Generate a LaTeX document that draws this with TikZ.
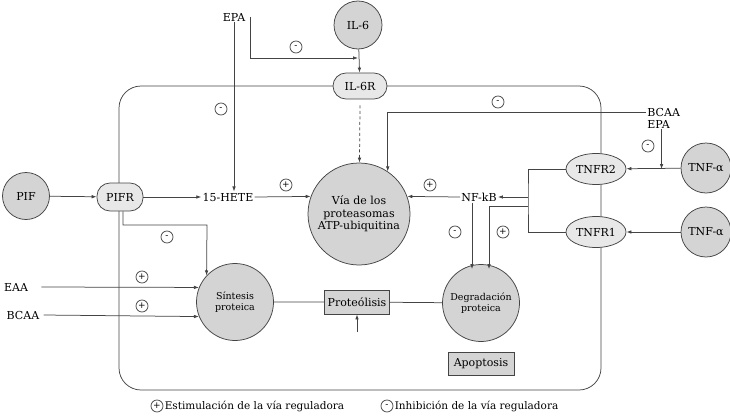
\documentclass[tikz,border=0pt]{standalone}
\usepackage{fontspec}
\setmainfont{DejaVu Serif}
\usetikzlibrary{arrows.meta,shapes.geometric}
\definecolor{ln}{HTML}{444444}
\definecolor{cfill}{HTML}{D4D4D4}
\definecolor{rfill}{HTML}{E8E8E8}
\begin{document}
\begin{tikzpicture}[x=1pt, y=-1pt,
  >={Latex[length=5pt,width=3.6pt]},
  draw=ln, line width=0.75pt,
  lbl/.style = {font=\fontsize{11}{12.5}\selectfont, inner sep=1pt},
  circ/.style = {shape=circle, draw=ln, fill=cfill, align=center,
    inner sep=0pt, font=\fontsize{11}{12.5}\selectfont},
  recep/.style = {shape=rectangle, rounded corners=13pt, draw=ln, fill=rfill,
    inner sep=0pt, font=\fontsize{11}{12.5}\selectfont},
  tnfr/.style = {shape=ellipse, draw=ln, fill=rfill, inner sep=0pt,
    minimum width=60pt, minimum height=31pt, font=\fontsize{11}{12.5}\selectfont},
  gbox/.style = {shape=rectangle, draw=ln, fill=cfill, inner sep=0pt,
    font=\fontsize{11}{12.5}\selectfont},
  sg/.style = {shape=circle, draw=ln, inner sep=0pt, minimum size=12pt,
    font=\fontsize{9}{9}\selectfont}]
  \path[use as bounding box] (0,0) rectangle (730,415);
  % cell
  \draw[rounded corners=22pt] (119,86) rectangle (601,390);
  % nodes
  \node[lbl] (epa) at (234,17) {EPA};
  \node[circ, minimum size=48pt] (il6) at (358,25) {IL-6};
  \node[recep, minimum width=54pt, minimum height=26pt] (il6r) at (360,86) {IL-6R};
  \node[circ, minimum size=47pt] (pif) at (26,196) {PIF};
  \node[recep, minimum width=46pt, minimum height=28pt] (pifr) at (120,197) {PIFR};
  \node[lbl] (hete) at (228,197) {15-HETE};
  \node[circ, minimum size=102pt] (via) at (359,214)
    {V\'ia de los\\proteasomas\\ATP-ubiquitina};
  \node[lbl] (nfkb) at (479,197) {NF-kB};
  \node[tnfr] (tnfr2) at (596,169) {TNFR2};
  \node[tnfr] (tnfr1) at (596,232) {TNFR1};
  \node[circ, minimum size=50pt] (tnfa2) at (706,168) {TNF-α};
  \node[circ, minimum size=50pt] (tnfa1) at (706,232) {TNF-α};
  \node[lbl, anchor=west] (bcaar) at (646,112) {BCAA};
  \node[lbl, anchor=west] (epar) at (646,124) {EPA};
  \node[circ, minimum size=77pt, font=\fontsize{9.5}{11}\selectfont] (sin) at (235,302)
    {S\'intesis\\proteica};
  \node[gbox, minimum width=65pt, minimum height=24pt] (prot) at (357,302) {Prote\'olisis};
  \node[circ, minimum size=77pt, font=\fontsize{9.5}{11}\selectfont] (deg) at (481,303)
    {Degradaci\'on\\proteica};
  \node[gbox, minimum width=66pt, minimum height=23pt] (apop) at (481,364) {Apoptosis};
  \node[lbl] (eaa) at (16,287) {EAA};
  \node[lbl] (bcaal) at (23,315) {BCAA};
  % helper points
  \coordinate (j6) at (358,58);
  \coordinate (br) at (528,197);
  \coordinate (br2) at (528,206);
  \coordinate (k1) at (207,225);
  \coordinate (pin) at (357,332);
  % connectors
  \draw[->] (pif) -- (pifr);
  \draw[->] (pifr) -- (hete);
  \draw[->] (hete.east) -- (via.160);
  \draw[->] (nfkb.west) -- (via.20);
  \draw[->] (epa.south) -- (epa.south |- hete.north);
  \draw[->] ([xshift=4pt]epa.east) |- (j6);
  \draw[->] (il6) -- (il6r);
  \draw[->, dashed, dash pattern=on 3pt off 2.5pt] ([yshift=-6pt]il6r.south) -- (via);
  \draw[->] (bcaar.west) -| (via.56);
  \draw[->] ([xshift=3pt]epar.south) -- ([xshift=3pt]epar.south |- tnfr2);
  \draw[->] (tnfa2) -- (tnfr2);
  \draw[->] (tnfa1) -- (tnfr1);
  \draw (tnfr2.west) -| (br) |- (tnfr1.west);
  \draw[->] (br) -- (nfkb.east);
  \draw[->] (br2) -| ([xshift=8pt,yshift=-5pt]deg.north);
  \draw[->] ([xshift=-7pt]nfkb.south) -- ([xshift=-9pt,yshift=-5pt]deg.north);
  \draw[->] ([xshift=3pt]pifr.south) |- (k1) -- (sin.137);
  \draw[->] ([xshift=12pt]eaa.east) -- (sin.158);
  \draw[->] ([xshift=3pt]bcaal.east) -- (sin.202);
  \draw (sin) -- (prot) -- (deg);
  \draw[->] (pin) -- (prot);
  % signs
  \node[sg] (s1) at (296,47) {-};
  \node[sg] (s2) at (221,109) {-};
  \node[sg] (s3) at (498,102) {-};
  \node[sg] (s4) at (648,146) {-};
  \node[sg] (s5) at (286,185) {+};
  \node[sg] (s6) at (430,185) {+};
  \node[sg] (s7) at (167,237) {-};
  \node[sg] (s8) at (142,277) {+};
  \node[sg] (s9) at (142,306) {+};
  \node[sg] (s10) at (455,232) {-};
  \node[sg] (s11) at (503,232) {+};
  % legend
  \node[sg] (lp) at (157,406) {+};
  \node[lbl, anchor=west, font=\fontsize{10.5}{12}\selectfont] (lpt) at (lp.east)
    {Estimulaci\'on de la v\'ia reguladora};
  \node[sg] (lm) at (387,406) {-};
  \node[lbl, anchor=west, font=\fontsize{10.5}{12}\selectfont] (lmt) at (lm.east)
    {Inhibici\'on de la v\'ia reguladora};
\end{tikzpicture}
\end{document}
